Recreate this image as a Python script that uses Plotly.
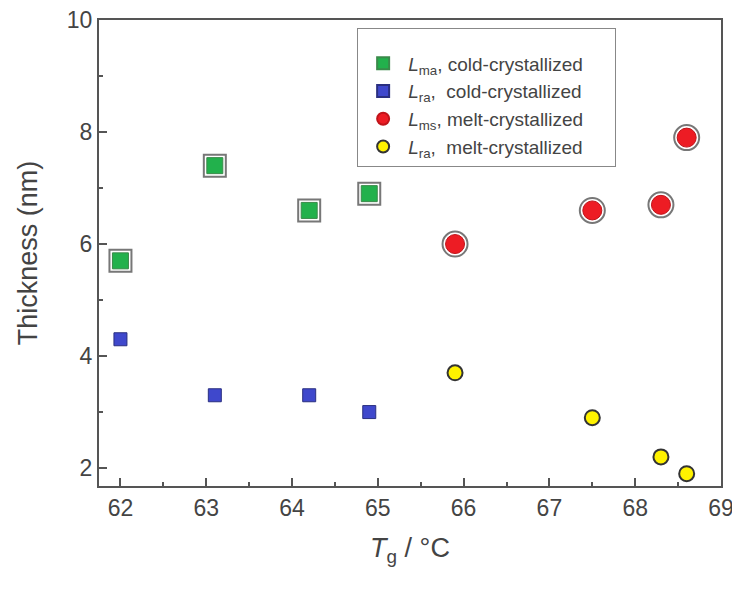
import plotly.graph_objects as go

tg_cold = [62.0, 63.1, 64.2, 64.9]
lma_cold = [5.7, 7.4, 6.6, 6.9]
lra_cold = [4.3, 3.3, 3.3, 3.0]
tg_melt = [65.9, 67.5, 68.3, 68.6]
lms_melt = [6.0, 6.6, 6.7, 7.9]
lra_melt = [3.7, 2.9, 2.2, 1.9]

x_ticks = [62, 63, 64, 65, 66, 67, 68, 69]
y_ticks = [2, 4, 6, 8, 10]

fig = go.Figure()

# outer rings (not in legend)
fig.add_trace(go.Scatter(x=tg_cold, y=lma_cold, mode="markers", showlegend=False,
                         legendgroup="a", hoverinfo="skip",
                         marker=dict(symbol="square", size=22, color="white",
                                     line=dict(color="#777777", width=2))))
fig.add_trace(go.Scatter(x=tg_cold, y=lma_cold, mode="markers", legendgroup="a",
                         name="<i>L</i><sub>ma</sub>, cold-crystallized&nbsp;&nbsp;&nbsp;&nbsp;&nbsp;",
                         marker=dict(symbol="square", size=16, color="#22b14c",
                                     line=dict(color="#3a8a4a", width=1))))
fig.add_trace(go.Scatter(x=tg_cold, y=lra_cold, mode="markers",
                         name="<i>L</i><sub>ra</sub>,  cold-crystallized",
                         marker=dict(symbol="square", size=13, color="#3f48cc",
                                     line=dict(color="#2a2f80", width=1))))
fig.add_trace(go.Scatter(x=tg_melt, y=lms_melt, mode="markers", showlegend=False,
                         legendgroup="c", hoverinfo="skip",
                         marker=dict(symbol="circle", size=25, color="white",
                                     line=dict(color="#777777", width=2))))
fig.add_trace(go.Scatter(x=tg_melt, y=lms_melt, mode="markers", legendgroup="c",
                         name="<i>L</i><sub>ms</sub>, melt-crystallized",
                         marker=dict(symbol="circle", size=19, color="#ed1c24",
                                     line=dict(color="#c0141a", width=1))))
fig.add_trace(go.Scatter(x=tg_melt, y=lra_melt, mode="markers",
                         name="<i>L</i><sub>ra</sub>,  melt-crystallized",
                         marker=dict(symbol="circle", size=15, color="#fff200",
                                     line=dict(color="#333333", width=2))))

axis_common = dict(showline=True, linecolor="#555555", linewidth=2, mirror=True,
                   ticks="inside", ticklen=8, tickwidth=2, tickcolor="#555555",
                   showgrid=False, zeroline=False, automargin=False,
                   ticklabeloverflow="allow",
                   tickfont=dict(family="Liberation Sans, Arial", size=23, color="#444444"))

fig.update_xaxes(range=[61.75, 69.0], tickvals=x_ticks, **axis_common,
                 minor=dict(dtick=0.5, ticks="inside", ticklen=4, tickwidth=2, tickcolor="#555555"),
                 title=dict(text="<i>T</i><sub>g</sub> / °C", standoff=19,
                            font=dict(family="Liberation Sans, Arial", size=27, color="#444444")))
fig.update_yaxes(range=[1.68, 10.0], tickvals=y_ticks, **axis_common,
                 minor=dict(dtick=1, ticks="inside", ticklen=4, tickwidth=2, tickcolor="#555555"),
                 title=dict(text="Thickness (nm)", standoff=21,
                            font=dict(family="Liberation Sans, Arial", size=27, color="#444444")))

fig.update_layout(
    width=740, height=590,
    margin=dict(l=91, r=27, t=12, b=112),
    plot_bgcolor="white", paper_bgcolor="white",
    legend=dict(x=0.415, y=0.983, xanchor="left", yanchor="top",
                bordercolor="#888888", borderwidth=1, bgcolor="white",
                font=dict(family="Liberation Sans, Arial", size=19, color="#444444"),
                title=dict(text="&nbsp;", font=dict(size=12)),
                itemsizing="constant", tracegroupgap=0, itemwidth=40),
)

fig.write_html("out.html")
